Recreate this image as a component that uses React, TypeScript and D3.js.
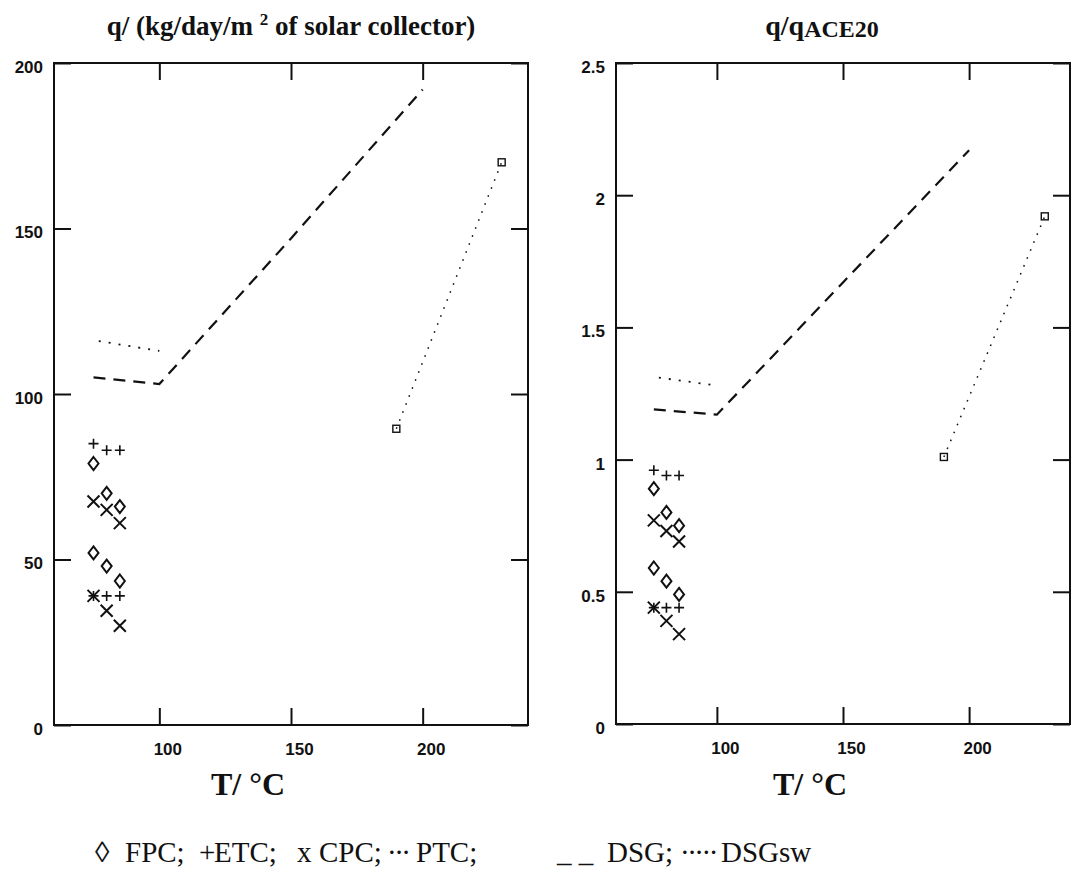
import React, { useEffect, useRef } from 'react';
import * as d3 from 'd3';

// collector temperatures (°C) used for the FPC / ETC / CPC points
const collectorT = [75, 80, 85];
const xTicks = [100, 150, 200];

// left panel: q / (kg/day/m2 of solar collector)
const leftFpc = [[79, 70, 66], [52, 48, 43.5]];
const leftEtc = [[85, 83, 83], [39, 39, 39]];
const leftCpc = [[67.5, 65, 61], [39, 34.5, 30]];
const leftPtcT = [77, 100];
const leftPtcQ = [116, 113];
const leftDsgT = [75, 100, 150, 200];
const leftDsgQ = [105, 103, 147, 192];
const leftDsgswT = [190, 230];
const leftDsgswQ = [89.5, 170];
const leftYTicks = [0, 50, 100, 150, 200];
const leftYLabels = ['0', '50', '100', '150', '200'];

// right panel: q / qACE20
const rightFpc = [[0.89, 0.8, 0.75], [0.59, 0.54, 0.49]];
const rightEtc = [[0.96, 0.94, 0.94], [0.44, 0.44, 0.44]];
const rightCpc = [[0.77, 0.73, 0.69], [0.44, 0.39, 0.34]];
const rightPtcT = [77, 100];
const rightPtcQ = [1.31, 1.28];
const rightDsgT = [75, 100, 150, 200];
const rightDsgQ = [1.19, 1.17, 1.67, 2.17];
const rightDsgswT = [190, 230];
const rightDsgswQ = [1.01, 1.92];
const rightYTicks = [0, 0.5, 1, 1.5, 2, 2.5];
const rightYLabels = ['0', '0.5', '1', '1.5', '2', '2.5'];

const legendTexts = ['◊', 'FPC;', '+', 'ETC;', 'x', 'CPC;', '···', 'PTC;', '_ _', 'DSG;', '·····', 'DSGsw'];
const legendX = [95, 125, 199, 214, 297, 319, 387, 416, 557, 607, 680, 721];

const INK = '#111';
const SERIF = '"Liberation Serif", "Times New Roman", serif';
const SANS = '"Liberation Sans", Arial, sans-serif';

const diamondPath = 'M0,-6.5L5,0L0,6.5L-5,0Z';
const plusPath = 'M-5,0H5M0,-5V5';
const timesPath = 'M-6,-6L6,6M-6,6L6,-6';

const drawPanel = (svg, p) => {
    const x = d3.scaleLinear().domain([60, 240]).range([p.left, p.right]);
    const y = d3.scaleLinear().domain([0, p.yMax]).range([p.bottom, p.top]);
    const g = svg.append('g');

    // frame
    g.append('rect')
        .attr('x', p.left).attr('y', p.top)
        .attr('width', p.right - p.left).attr('height', p.bottom - p.top)
        .attr('fill', 'none').attr('stroke', INK).attr('stroke-width', 2);

    const styleAxis = (sel) => {
        sel.select('.domain').remove();
        sel.attr('font-family', SANS).attr('font-size', 17).attr('font-weight', 'bold');
        sel.selectAll('line').attr('stroke', INK).attr('stroke-width', 2);
        sel.selectAll('text').attr('fill', INK);
    };

    g.append('g').attr('transform', `translate(0,${p.bottom})`)
        .call(d3.axisBottom(x).tickValues(xTicks).tickSize(-17).tickSizeOuter(0).tickPadding(18))
        .call(styleAxis)
        .selectAll('text').attr('dx', 8);
    g.append('g').attr('transform', `translate(0,${p.top})`)
        .call(d3.axisTop(x).tickValues(xTicks).tickSize(-17).tickSizeOuter(0).tickFormat(() => ''))
        .call(styleAxis);
    g.append('g').attr('transform', `translate(${p.left},0)`)
        .call(d3.axisLeft(y).tickValues(p.yTicks).tickSize(-17).tickSizeOuter(0).tickPadding(11)
            .tickFormat((d, i) => p.yLabels[i]))
        .call(styleAxis)
        .selectAll('text').attr('y', 4);
    g.append('g').attr('transform', `translate(${p.right},0)`)
        .call(d3.axisRight(y).tickValues(p.yTicks).tickSize(-17).tickSizeOuter(0).tickFormat(() => ''))
        .call(styleAxis);

    // lines
    const line = d3.line().x(d => x(d[0])).y(d => y(d[1]));
    const drawLine = (ts, qs, dash, w) => {
        g.append('path')
            .datum(ts.map((t, i) => [t, qs[i]]))
            .attr('d', line)
            .attr('fill', 'none').attr('stroke', INK)
            .attr('stroke-width', w).attr('stroke-dasharray', dash);
    };
    drawLine(p.dsgT, p.dsgQ, '12,8', 2.2);
    drawLine(p.ptcT, p.ptcQ, '2,8', 1.8);
    drawLine(p.dsgswT, p.dsgswQ, '1.6,7', 1.5);

    // squares at the DSGsw ends
    g.selectAll('rect.sq')
        .data(p.dsgswT.map((t, i) => [t, p.dsgswQ[i]]))
        .enter().append('rect').attr('class', 'sq')
        .attr('x', d => x(d[0]) - 3.5).attr('y', d => y(d[1]) - 3.5)
        .attr('width', 7).attr('height', 7)
        .attr('fill', 'none').attr('stroke', INK).attr('stroke-width', 1.4);

    // collector markers
    const drawMarkers = (rows, path, w) => {
        rows.forEach(row => {
            g.selectAll(null)
                .data(row.map((q, i) => [collectorT[i], q]))
                .enter().append('path')
                .attr('d', path)
                .attr('transform', d => `translate(${x(d[0])},${y(d[1])})`)
                .attr('fill', 'none').attr('stroke', INK).attr('stroke-width', w);
        });
    };
    drawMarkers(p.fpc, diamondPath, 2);
    drawMarkers(p.etc, plusPath, 1.6);
    drawMarkers(p.cpc, timesPath, 2);

    // x axis title
    svg.append('text')
        .attr('x', p.left + 194).attr('y', 795)
        .attr('text-anchor', 'middle')
        .attr('font-family', SERIF).attr('font-weight', 'bold').attr('font-size', 32)
        .attr('fill', INK)
        .text('T/ °C');
};

const App = () => {
    const ref = useRef(null);

    useEffect(() => {
        document.body.style.margin = '0';
        const svg = d3.select(ref.current);
        svg.selectAll('*').remove();

        svg.append('rect').attr('width', 1088).attr('height', 872).attr('fill', '#fff');

        drawPanel(svg, {
            left: 54, right: 528, top: 63, bottom: 725, yMax: 200,
            yTicks: leftYTicks, yLabels: leftYLabels,
            fpc: leftFpc, etc: leftEtc, cpc: leftCpc,
            ptcT: leftPtcT, ptcQ: leftPtcQ,
            dsgT: leftDsgT, dsgQ: leftDsgQ,
            dsgswT: leftDsgswT, dsgswQ: leftDsgswQ,
        });
        drawPanel(svg, {
            left: 616, right: 1070, top: 63, bottom: 724, yMax: 2.5,
            yTicks: rightYTicks, yLabels: rightYLabels,
            fpc: rightFpc, etc: rightEtc, cpc: rightCpc,
            ptcT: rightPtcT, ptcQ: rightPtcQ,
            dsgT: rightDsgT, dsgQ: rightDsgQ,
            dsgswT: rightDsgswT, dsgswQ: rightDsgswQ,
        });

        // panel titles
        const t1 = svg.append('text')
            .attr('x', 291).attr('y', 35).attr('text-anchor', 'middle')
            .attr('font-family', SERIF).attr('font-weight', 'bold').attr('font-size', 27)
            .attr('fill', INK);
        t1.append('tspan').text('q/ (kg/day/m ');
        t1.append('tspan').attr('font-size', 17).attr('dy', -10).text('2');
        t1.append('tspan').attr('dy', 10).text(' of solar collector)');

        const t2 = svg.append('text')
            .attr('x', 822).attr('y', 35).attr('text-anchor', 'middle')
            .attr('font-family', SERIF).attr('font-weight', 'bold').attr('font-size', 28)
            .attr('fill', INK);
        t2.append('tspan').text('q/q');
        t2.append('tspan').attr('font-size', 24).attr('dy', 2).text('ACE20');

        // legend line
        svg.append('g')
            .attr('font-family', SERIF).attr('font-size', 29).attr('fill', INK)
            .selectAll('text')
            .data(legendTexts)
            .enter().append('text')
            .attr('x', (d, i) => legendX[i]).attr('y', 862)
            .attr('letter-spacing', d => (d.startsWith('·') ? -2.5 : 0))
            .text(d => d);
    }, []);

    return <svg ref={ref} width={1088} height={872} style={{ display: 'block' }}></svg>;
};

export default App;
